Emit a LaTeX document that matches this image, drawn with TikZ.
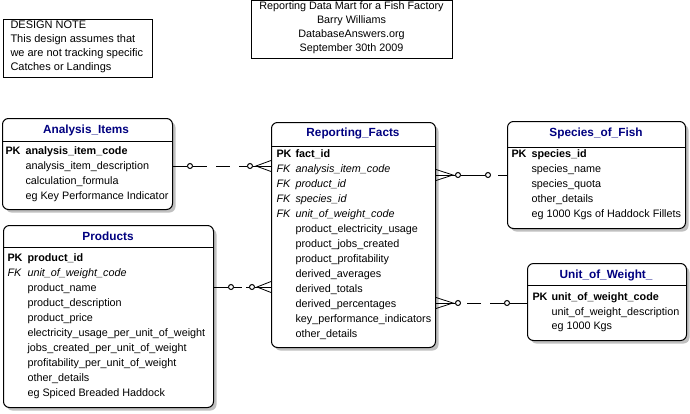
\documentclass[tikz,border=0pt]{standalone}
\usepackage{fontspec}
\setmainfont{Liberation Sans}
\usetikzlibrary{shadows,calc}
\definecolor{hdrblue}{RGB}{0,0,128}
\definecolor{shadowgray}{RGB}{192,192,192}
\begin{document}
\begin{tikzpicture}[x=1pt,y=-1pt,line width=1pt,
  ent/.style={draw,fill=white,rounded corners=6pt,inner sep=0pt,anchor=north west,
    drop shadow={shadow xshift=3pt,shadow yshift=-3pt,fill=shadowgray,opacity=1}},
  hdr/.style={font=\fontsize{11.8}{13}\selectfont\bfseries,text=hdrblue,inner sep=0pt},
  fld/.style={font=\fontsize{10.8}{12}\selectfont,anchor=west,inner sep=0pt,text height=8pt,text depth=2pt},
  keyfld/.style={fld,font=\fontsize{10.8}{12}\selectfont\bfseries},
  fkfld/.style={fld,font=\fontsize{10.8}{12}\selectfont\itshape},
  notebox/.style={draw,inner sep=0pt,anchor=north west},
  ring/.style={draw,circle,inner sep=0pt,minimum size=5pt},
  relline/.style={line width=0.8pt},
  reldash/.style={line width=0.8pt,dash pattern=on 14pt off 9pt}
]
\useasboundingbox (0,0) rectangle (690,413);

% ---------- notes ----------
\node[notebox,minimum width=149pt,minimum height=58pt] (dn) at (3,19) {};
\node[font=\fontsize{11}{14}\selectfont,align=left,anchor=north west,inner sep=0pt] (dntext) at (10,20.5)
  {DESIGN NOTE\\This design assumes that\\we are not tracking specific\\Catches or Landings};
\node[notebox,minimum width=201pt,minimum height=58pt] (tb) at (251,0) {};
\node[font=\fontsize{10.8}{14}\selectfont,align=center,anchor=north,inner sep=0pt] (tbtext) at (351.5,1.5)
  {Reporting Data Mart for a Fish Factory\\Barry Williams\\DatabaseAnswers.org\\September 30th 2009};

% ---------- Analysis_Items ----------
\node[ent,minimum width=170pt,minimum height=91pt] (ai) at (2,118) {};
\node[hdr] (aih) at (86,130) {Analysis\_Items};
\draw (ai.west |- 0,141) -- (ai.east |- 0,141);
\node[keyfld] (aipk) at (5,151) {PK};
\node[keyfld] (ai1) at (25,151) {analysis\_item\_code};
\node[fld] (ai2) at (25,166) {analysis\_item\_description};
\node[fld] (ai3) at (25,181) {calculation\_formula};
\node[fld] (ai4) at (25,196) {eg Key Performance Indicator};

% ---------- Reporting_Facts ----------
\node[ent,minimum width=164pt,minimum height=225pt] (rf) at (271,122) {};
\node[hdr] (rfh) at (353,133) {Reporting\_Facts};
\draw (rf.west |- 0,146) -- (rf.east |- 0,146);
\node[keyfld] (rfpk) at (276,154) {PK};
\node[keyfld] (rf1) at (295,154) {fact\_id};
\foreach \t [count=\i] in {analysis\_item\_code,product\_id,species\_id,unit\_of\_weight\_code}{
  \node[fkfld] (rffk\i) at (276,{154+15*\i}) {FK};
  \node[fkfld] (rfk\i) at (295,{154+15*\i}) {\t};
}
\foreach \t [count=\i] in {product\_electricity\_usage,product\_jobs\_created,product\_profitability,derived\_averages,derived\_totals,derived\_percentages,key\_performance\_indicators,other\_details}{
  \node[fld] (rfa\i) at (295,{214+15*\i}) {\t};
}

% ---------- Species_of_Fish ----------
\node[ent,minimum width=178pt,minimum height=107pt] (sf) at (507,121) {};
\node[hdr] (sfh) at (596,133) {Species\_of\_Fish};
\draw (sf.west |- 0,147) -- (sf.east |- 0,147);
\node[keyfld] (sfpk) at (511,154) {PK};
\node[keyfld] (sf1) at (531,154) {species\_id};
\foreach \t [count=\i] in {species\_name,species\_quota,other\_details,eg 1000 Kgs of Haddock Fillets}{
  \node[fld] (sfa\i) at (531,{154+15*\i}) {\t};
}

% ---------- Products ----------
\node[ent,minimum width=210pt,minimum height=182pt] (pr) at (3,225) {};
\node[hdr] (prh) at (108,236) {Products};
\draw (pr.west |- 0,247) -- (pr.east |- 0,247);
\node[keyfld] (prpk) at (7,258) {PK};
\node[keyfld] (pr1) at (27,258) {product\_id};
\node[fkfld] (prfk) at (7,273) {FK};
\node[fkfld] (pr2) at (27,273) {unit\_of\_weight\_code};
\foreach \t [count=\i] in {product\_name,product\_description,product\_price,electricity\_usage\_per\_unit\_of\_weight,jobs\_created\_per\_unit\_of\_weight,profitability\_per\_unit\_of\_weight,other\_details,eg Spiced Breaded Haddock}{
  \node[fld] (pra\i) at (27,{273+15*\i}) {\t};
}

% ---------- Unit_of_Weight_ ----------
\node[ent,minimum width=159pt,minimum height=77pt] (uw) at (527,263) {};
\node[hdr] (uwh) at (606,275) {Unit\_of\_Weight\_};
\draw (uw.west |- 0,285) -- (uw.east |- 0,285);
\node[keyfld] (uwpk) at (532,297) {PK};
\node[keyfld] (uw1) at (551,297) {unit\_of\_weight\_code};
\node[fld] (uw2) at (551,312) {unit\_of\_weight\_description};
\node[fld] (uw3) at (551,326) {eg 1000 Kgs};

% ---------- relationships ----------
% Analysis_Items -> Reporting_Facts (left side of facts)
\coordinate (r1p) at (ai.east |- 0,166);
\coordinate (r1c) at (rf.west |- 0,166);
\node[ring] (r1o1) at ($(r1p)+(17,0)$) {};
\node[ring] (r1o2) at ($(r1c)+(-21,0)$) {};
\draw[relline] (r1p) -- (r1o1.west);
\draw[reldash] (r1o1.east) -- (r1o2.west);
\draw[relline] (r1o2.east) -- (r1c);
\draw[relline] ($(r1c)+(0,-5.5)$) -- ($(r1c)+(-15,0)$) -- ($(r1c)+(0,5.5)$);

% Products -> Reporting_Facts
\coordinate (r2p) at (pr.east |- 0,287);
\coordinate (r2c) at (rf.west |- 0,287);
\node[ring] (r2o1) at ($(r2p)+(17,0)$) {};
\node[ring] (r2o2) at ($(r2c)+(-19,0)$) {};
\draw[relline] (r2p) -- (r2o1.west);
\draw[relline,dash pattern=on 8pt off 4pt] (r2o1.east) -- (r2o2.west);
\draw[relline] (r2o2.east) -- (r2c);
\draw[relline] ($(r2c)+(0,-5.5)$) -- ($(r2c)+(-14,0)$) -- ($(r2c)+(0,5.5)$);

% Species_of_Fish -> Reporting_Facts (right side of facts)
\coordinate (r3p) at (sf.west |- 0,175);
\coordinate (r3c) at (rf.east |- 0,175);
\node[ring] (r3o1) at ($(r3p)+(-19,0)$) {};
\node[ring] (r3o2) at ($(r3c)+(22,0)$) {};
\draw[relline] (r3p) -- ($(r3p)+(-9,0)$);
\draw[relline] (r3o1.west) -- (r3o2.east);
\draw[relline] (r3o2.west) -- (r3c);
\draw[relline] ($(r3c)+(0,-5.5)$) -- ($(r3c)+(17,0)$) -- ($(r3c)+(0,5.5)$);

% Unit_of_Weight_ -> Reporting_Facts
\coordinate (r4p) at (uw.west |- 0,303);
\coordinate (r4c) at (rf.east |- 0,303);
\node[ring] (r4o1) at ($(r4p)+(-20,0)$) {};
\node[ring] (r4o2) at ($(r4c)+(22,0)$) {};
\draw[relline] (r4p) -- (r4o1.east);
\draw[reldash] (r4o1.west) -- (r4o2.east);
\draw[relline] (r4o2.west) -- (r4c);
\draw[relline] ($(r4c)+(0,-5.5)$) -- ($(r4c)+(17,0)$) -- ($(r4c)+(0,5.5)$);
\end{tikzpicture}
\end{document}
